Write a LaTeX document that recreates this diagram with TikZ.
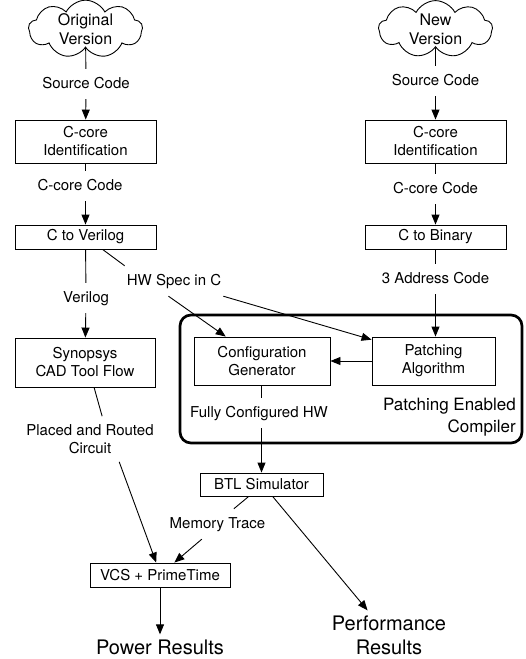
\documentclass[tikz,border=0pt]{standalone}
\usepackage{fontspec}
\setmainfont{TeX Gyre Heros}
\usetikzlibrary{arrows.meta,shapes.symbols,calc}
\begin{document}
\begin{tikzpicture}[x=1pt,y=-1pt,
  every node/.style={font=\fontsize{15}{18}\selectfont},
  box/.style={draw, line width=0.9pt, inner sep=0pt, align=center},
  lbl/.style={inner xsep=2pt, inner ysep=8pt, text height=11pt, text depth=3pt},
  mlbl/.style={inner xsep=2pt, inner ysep=8pt, align=center},
  res/.style={inner sep=5pt, align=center, font=\fontsize{20}{24}\selectfont},
  cl/.style={cloud, draw, line width=0.9pt, cloud puffs=9, cloud puff arc=125, cloud ignores aspect, inner sep=0pt, minimum width=114pt, minimum height=52pt, align=center, font=\fontsize{16}{19}\selectfont},
  ln/.style={line width=0.9pt},
  arr/.style={line width=0.9pt, -{Triangle[length=10pt,width=8pt]}}
]
\useasboundingbox (0,0) rectangle (526,659);

% compiler frame
\node[draw, line width=2.7pt, rounded corners=11pt, minimum width=342pt, minimum height=128pt, inner sep=0pt] (pecbox) at (351,379) {};
\node[anchor=east, align=right, inner sep=0pt, font=\fontsize{17}{22}\selectfont] (pec) at (516,417) {Patching Enabled\\Compiler};

% left column
\node[cl] (orig) at (85.5,29) {Original\\Version};
\node[lbl] (sc1) at (86,84) {Source Code};
\node[box, minimum width=141pt, minimum height=43pt] (ci1) at (85.5,141.5) {C-core\\Identification};
\node[lbl] (cc1) at (80,186) {C-core Code};
\node[box, minimum width=141pt, minimum height=24pt] (cv) at (85.5,237) {C to Verilog};
\node[lbl] (vl) at (86,298) {Verilog};
\node[box, minimum width=140pt, minimum height=49pt] (syn) at (85,362.5) {Synopsys\\CAD Tool Flow};
\node[mlbl] (pr) at (90,439) {Placed and Routed\\Circuit};
\node[box, minimum width=140pt, minimum height=24pt] (vcs) at (160,575) {VCS + PrimeTime};
\node[res] (pow) at (160,647) {Power Results};

% right column
\node[cl] (new) at (435.5,29) {New\\Version};
\node[lbl] (sc2) at (435.5,81) {Source Code};
\node[box, minimum width=141pt, minimum height=43pt] (ci2) at (435.5,141.5) {C-core\\Identification};
\node[lbl] (cc2) at (435.5,189) {C-core Code};
\node[box, minimum width=141pt, minimum height=24pt] (cb) at (435.5,237) {C to Binary};
\node[lbl] (ac) at (435.5,279) {3 Address Code};
\node[box, minimum width=123pt, minimum height=48pt] (pa) at (433.5,361) {Patching\\Algorithm};
\node[box, minimum width=136pt, minimum height=48pt] (cg) at (262,361) {Configuration\\Generator};

% middle
\node[lbl] (hw) at (174,281) {HW Spec in C};
\node[lbl] (fc) at (259,413) {Fully Configured HW};
\node[box, minimum width=123pt, minimum height=23pt] (btl) at (261.5,484.5) {BTL Simulator};
\node[lbl] (mt) at (217.5,524) {Memory Trace};
\node[res] (perf) at (389,635) {Performance\\Results};

% connectors left
\draw[ln] (orig) -- (sc1);
\draw[arr] (sc1) -- (ci1);
\draw[ln] (ci1.south) -- (ci1.south |- cc1.north);
\draw[arr] (ci1.south |- cc1.south) -- (cv.north);
\draw[ln] (cv) -- (vl);
\draw[arr] (vl) -- (syn);
\draw[ln] (syn.-70) -- (pr.62);
\draw[arr] (pr.-38) -- (vcs.107);
\draw[arr] (vcs) -- (pow);

% connectors right
\draw[ln] (new) -- (sc2);
\draw[arr] (sc2) -- (ci2);
\draw[ln] (ci2) -- (cc2);
\draw[arr] (cc2) -- (cb);
\draw[ln] (cb.south -| ac) -- (ac);
\draw[arr] (ac) -- (ac |- pa.north);
\draw[arr] (pa) -- (cg);

% middle connectors
\draw[ln] (cv.-36) -- (hw.north west);
\draw[arr] (hw.-110) -- (cg.146);
\draw[arr] (hw.south east) -- (pa.161);
\draw[ln] (cg.south -| btl) -- (fc.north -| btl);
\draw[arr] (fc.south -| btl) -- (btl.north);
\draw[ln] (btl.-137) -- (mt.43);
\draw[arr] (mt.-136) -- (vcs.41);
\draw[arr] (btl.-47) -- (perf.131);
\end{tikzpicture}
\end{document}
